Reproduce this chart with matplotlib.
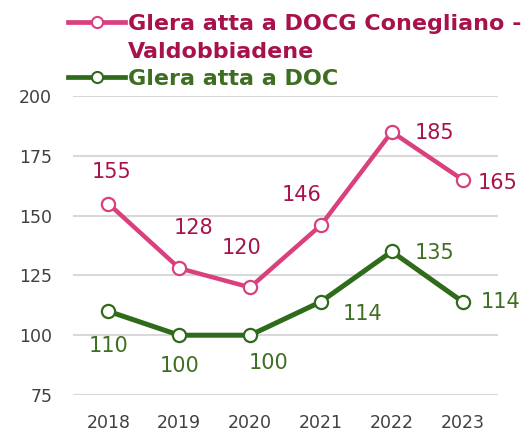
import matplotlib.pyplot as plt
from matplotlib.lines import Line2D

# data
years = ['2018', '2019', '2020', '2021', '2022', '2023']
docg = [155, 128, 120, 146, 185, 165]
doc = [110, 100, 100, 114, 135, 114]
docg_name = 'Glera atta a DOCG Conegliano -\nValdobbiadene'
doc_name = 'Glera atta a DOC'

pink = '#D9407E'
pink_txt = '#A8124C'
green = '#2E6B1A'
green_txt = '#3E6E22'

plt.rcParams['font.family'] = ['DejaVu Sans']

W, H = 523, 436
fig = plt.figure(figsize=(W / 100, H / 100), dpi=100)
ax = fig.add_axes([0.1396, 0.094, 0.8126, 0.6858])

x = range(len(years))
ax.plot(x, docg, color=pink, lw=3.2, marker='o', ms=9.5, mfc='white', mec=pink, mew=1.6, zorder=3)
ax.plot(x, doc, color=green, lw=3.6, marker='o', ms=9.5, mfc='white', mec=green, mew=1.6, zorder=3)

# data labels: offsets in points
docg_off = [(2, 23), (10, 29), (-6, 28), (-14, 22), (31, -1), (25, -2)]
doc_off = [(0, -25), (0, -22), (13, -20), (30, -9), (31, -1), (27, 0)]
for i, v in enumerate(docg):
    ax.annotate(str(v), (i, v), xytext=docg_off[i], textcoords='offset points',
                ha='center', va='center', color=pink_txt, fontsize=15)
for i, v in enumerate(doc):
    ax.annotate(str(v), (i, v), xytext=doc_off[i], textcoords='offset points',
                ha='center', va='center', color=green_txt, fontsize=15)

ax.set_xlim(-0.5, 5.5)
ax.set_ylim(75, 200)
ax.set_yticks([75, 100, 125, 150, 175, 200])
ax.set_xticks(list(x))
ax.set_xticklabels(years)
ax.grid(axis='y', color='#D9D9D9', lw=1.5)
ax.set_axisbelow(True)
for s in ax.spines.values():
    s.set_visible(False)
ax.tick_params(length=0, labelsize=12.5, colors='#404040')
ax.tick_params(axis='x', pad=14)
ax.tick_params(axis='y', pad=15)

# legend drawn by hand so the handle sits on the first text line
def legend_entry(ypx, color, tcolor, label, step=28):
    y = 1 - ypx / H
    fig.add_artist(Line2D([68 / W, 97 / W, 125 / W], [y, y, y], transform=fig.transFigure,
                          color=color, lw=3.4, marker='o', markevery=[1], ms=8,
                          mfc='white', mec=color, mew=1.5))
    for k, line in enumerate(label.split('\n')):
        fig.text(128 / W, 1 - (ypx + k * step) / H, line, color=tcolor,
                 fontsize=16, fontweight='bold', va='center_baseline', ha='left')

legend_entry(22, pink, pink_txt, docg_name)
legend_entry(77, green, green_txt, doc_name)

fig.savefig('out.png', dpi=100)
